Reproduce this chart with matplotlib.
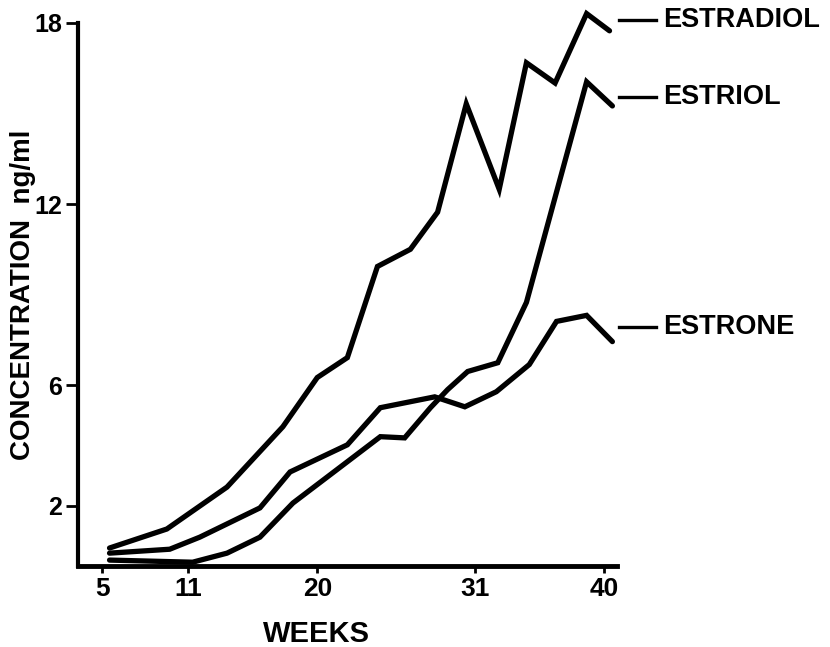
import matplotlib.pyplot as plt
from matplotlib import font_manager

names = {f.name for f in font_manager.fontManager.ttflist}
fam = 'Liberation Sans Narrow' if 'Liberation Sans Narrow' in names else 'Liberation Sans'
plt.rcParams['font.family'] = [fam, 'DejaVu Sans']
plt.rcParams['font.weight'] = 'bold'

# weeks / concentration (ng/ml)
estradiol_w = [5.5, 9.5, 13.7, 17.6, 20.0, 22.1, 24.2, 26.5, 28.4, 30.4, 32.7, 34.6, 36.6, 38.8, 40.4]
estradiol_c = [0.6, 1.23, 2.62, 4.62, 6.25, 6.91, 9.93, 10.5, 11.73, 15.32, 12.49, 16.68, 16.01, 18.31, 17.74]

estriol_w = [5.5, 11.3, 13.7, 16.0, 18.3, 22.1, 24.4, 26.1, 27.9, 29.1, 30.5, 32.6, 34.6, 38.8, 40.6]
estriol_c = [0.2, 0.13, 0.43, 0.96, 2.09, 3.46, 4.29, 4.25, 5.25, 5.85, 6.45, 6.74, 8.74, 16.05, 15.25]

estrone_w = [5.5, 9.7, 11.8, 16.0, 18.1, 22.1, 24.4, 28.2, 30.3, 32.5, 34.8, 36.7, 38.8, 40.6]
estrone_c = [0.43, 0.56, 0.96, 1.93, 3.12, 4.02, 5.25, 5.61, 5.28, 5.78, 6.68, 8.11, 8.31, 7.44]

series = [('ESTRADIOL', estradiol_w, estradiol_c),
          ('ESTRIOL', estriol_w, estriol_c),
          ('ESTRONE', estrone_w, estrone_c)]
label_y = [1.006, 0.864, 0.44]

xticks = [5, 11, 20, 31, 40]
yticks = [2, 6, 12, 18]

fig = plt.figure(figsize=(8.3, 6.47), dpi=100)
ax = fig.add_axes([0.094, 0.125, 0.649, 0.8395])

for (name, w, c), ly in zip(series, label_y):
    ax.plot(w, c, color='black', lw=3.8, solid_joinstyle='miter',
            solid_capstyle='round', clip_on=False)
    ax.plot([1.005, 1.073], [ly, ly], color='black', lw=2.4,
            transform=ax.transAxes, clip_on=False)
    ax.text(1.087, ly, name, transform=ax.transAxes, fontsize=19.5,
            fontweight='bold', va='center', ha='left')

ax.set_xlim(3.3, 40.9)
ax.set_ylim(0, 18)
ax.set_xticks(xticks)
ax.set_yticks(yticks)
ax.tick_params(axis='x', length=5, width=2, labelsize=19, pad=3)
ax.tick_params(axis='y', length=9, width=2, labelsize=18, pad=2.5)
for s in ['top', 'right']:
    ax.spines[s].set_visible(False)
ax.spines['left'].set_linewidth(3)
ax.spines['bottom'].set_linewidth(3.5)

ax.set_xlabel('WEEKS', fontsize=21, fontweight='bold')
ax.set_ylabel('CONCENTRATION  ng/ml', fontsize=20, fontweight='bold')
ax.xaxis.set_label_coords(0.442, -0.10)
ax.yaxis.set_label_coords(-0.078, 0.5)

fig.savefig('out.png', dpi=100)
